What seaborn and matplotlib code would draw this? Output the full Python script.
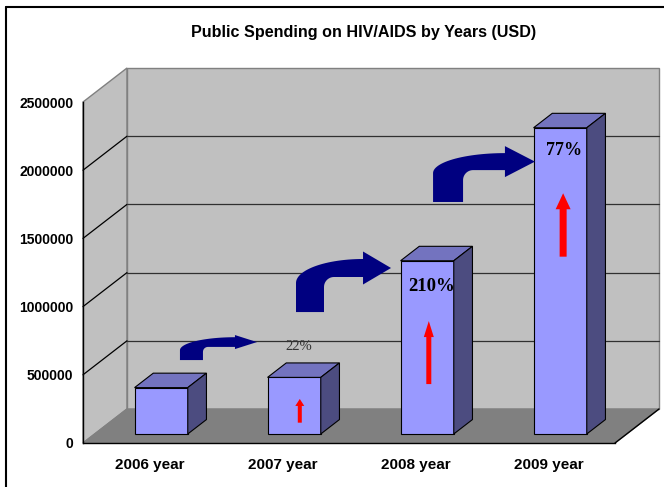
import numpy as np
import pandas as pd
import matplotlib
matplotlib.use("Agg")
import matplotlib.pyplot as plt
import seaborn as sns
from matplotlib.patches import Polygon
from matplotlib.lines import Line2D

# ---- data -------------------------------------------------------------
years = ["2006 year", "2007 year", "2008 year", "2009 year"]
spending = [340000, 415000, 1270000, 2245000]
growth_labels = ["", "22%", "210%", "77%"]
y_ticks = [0, 500000, 1000000, 1500000, 2000000, 2500000]

df = pd.DataFrame({"year": years, "spending": spending})

# ---- style ------------------------------------------------------------
sns.set_theme(style="white")
plt.rcParams["font.family"] = ["Liberation Sans", "DejaVu Sans"]
plt.rcParams["text.color"] = "black"
plt.rcParams["xtick.color"] = "black"
plt.rcParams["ytick.color"] = "black"
plt.rcParams["xtick.labelcolor"] = "black"
plt.rcParams["ytick.labelcolor"] = "black"

W, H = 664, 487
fig = plt.figure(figsize=(W / 100, H / 100), dpi=100)
fig.patch.set_facecolor("white")
ax = fig.add_axes([83 / W, 1 - 443 / H, 532 / W, 341 / H])

YMAX = 2500000
# oblique depth vector of the 3-D box (category units, value units)
DEPTH_X = 44 / 133
DEPTH_Y = 34 / 341 * YMAX
T_FRONT, T_BACK = 0.265, 0.69   # depth of the bars' front and back faces


def P(x, y, t):
    return (x + t * DEPTH_X, y + t * DEPTH_Y)


# ---- bars (front faces) ----------------------------------------------
sns.barplot(data=df, x="year", y="spending", ax=ax, color="#9999FF",
            saturation=1, width=0.4, edgecolor="black", linewidth=0.8,
            errorbar=None, zorder=3)
bars = list(ax.patches)

ax.set_xlim(-0.5, 3.5)
ax.set_ylim(0, YMAX)
ax.patch.set_alpha(0)

# ---- walls, floor and gridlines ---------------------------------------
x0, x1 = -0.5, 3.5
wall_kw = dict(closed=True, clip_on=False, linewidth=1.0)
ax.add_patch(Polygon([P(x0, 0, 0), P(x0, 0, 1), P(x0, YMAX, 1), P(x0, YMAX, 0)],
                     facecolor="#C0C0C0", edgecolor="#808080", zorder=0.5, **wall_kw))
ax.add_patch(Polygon([P(x0, 0, 1), P(x1, 0, 1), P(x1, YMAX, 1), P(x0, YMAX, 1)],
                     facecolor="#C0C0C0", edgecolor="#808080", zorder=0.5, **wall_kw))
ax.add_patch(Polygon([P(x0, 0, 0), P(x1, 0, 0), P(x1, 0, 1), P(x0, 0, 1)],
                     facecolor="#808080", edgecolor="#808080", zorder=0.6, **wall_kw))
# right edge of the floor
ax.add_line(Line2D(*zip(P(x1, 0, 0), P(x1, 0, 1)), color="black", lw=1.0,
                   clip_on=False, zorder=0.7))
for v in y_ticks[1:-1]:
    xs, ys = zip(P(x0, v, 0), P(x0, v, 1))
    ax.add_line(Line2D(xs, ys, color="black", lw=0.9, clip_on=False, zorder=0.8))
    xs, ys = zip(P(x0, v, 1), P(x1, v, 1))
    ax.add_line(Line2D(xs, ys, color="#303030", lw=0.9, clip_on=False, zorder=0.8))

# ---- bars: move to their depth and add top / side faces ---------------
d = T_BACK - T_FRONT
for bar in bars:
    bx = bar.get_x() + T_FRONT * DEPTH_X
    bw = bar.get_width()
    bh = bar.get_height()
    by = T_FRONT * DEPTH_Y
    bar.set_x(bx)
    bar.set_y(by)
    top = by + bh
    ax.add_patch(Polygon([(bx, top), (bx + bw, top),
                          (bx + bw + d * DEPTH_X, top + d * DEPTH_Y),
                          (bx + d * DEPTH_X, top + d * DEPTH_Y)],
                         closed=True, facecolor="#7373BF", edgecolor="black",
                         linewidth=0.8, zorder=3, clip_on=False))
    ax.add_patch(Polygon([(bx + bw, by), (bx + bw + d * DEPTH_X, by + d * DEPTH_Y),
                          (bx + bw + d * DEPTH_X, top + d * DEPTH_Y), (bx + bw, top)],
                         closed=True, facecolor="#4C4C80", edgecolor="black",
                         linewidth=0.8, zorder=3, clip_on=False))

# ---- axes, ticks and labels -------------------------------------------
for side in ("top", "right"):
    ax.spines[side].set_visible(False)
for side in ("left", "bottom"):
    ax.spines[side].set_color("black")
    ax.spines[side].set_linewidth(1.0)
    ax.spines[side].set_zorder(5)

ax.set_yticks(y_ticks)
ax.set_yticklabels([str(v) for v in y_ticks])
ax.tick_params(axis="y", which="major", direction="out", length=5, width=1,
               color="black", labelcolor="black", pad=2, labelsize=10)
for lab in ax.get_yticklabels():
    lab.set_fontweight("bold")

ax.set_xticks(np.arange(-0.5, 4.0, 1.0))
ax.set_xticklabels([])
ax.set_xticks(np.arange(len(years)), minor=True)
ax.set_xticklabels(years, minor=True, fontweight="bold", fontsize=11)
ax.tick_params(axis="x", which="major", direction="out", length=5, width=1,
               color="black")
ax.tick_params(axis="x", which="minor", length=0, pad=11, labelcolor="black")
ax.set_xlabel("")
ax.set_ylabel("")

fig.text(364 / W, 1 - 32 / H, "Public Spending on HIV/AIDS by Years (USD)",
         ha="center", va="center", fontsize=11.6, fontweight="bold", color="black")

# ---- annotations: growth percentages ----------------------------------
label_dy = [0, 225000, -190000, -170000]
label_style = [None, dict(fontsize=10.5, fontweight="normal", color="#333333"),
               dict(fontsize=13.5, fontweight="bold", color="black"),
               dict(fontsize=13, fontweight="bold", color="black")]
for i, (val, lab) in enumerate(zip(spending, growth_labels)):
    if not lab:
        continue
    top = T_FRONT * DEPTH_Y + val
    ax.text(i + 0.12, top + label_dy[i], lab, ha="center", va="center",
            family=["Liberation Serif", "DejaVu Serif"], zorder=6,
            **label_style[i])

to_disp = ax.transData.transform
to_data = ax.transData.inverted().transform

# red up-arrows inside the bars: (x, y_bottom, y_tip, shaft_w, head_w, head_len) px
red_arrows = [(1.13, 149000, 323000, 4, 9, 7),
              (2.10, 432000, 894000, 5, 10, 16),
              (3.11, 1366000, 1831000, 7, 15, 16)]
for xc, yb, yt, sw, hw, hl in red_arrows:
    (cx, by), = to_disp([(xc, yb)])
    (_, ty), = to_disp([(xc, yt)])
    pts = [(cx - sw / 2, by), (cx + sw / 2, by), (cx + sw / 2, ty - hl),
           (cx + hw / 2, ty - hl), (cx, ty), (cx - hw / 2, ty - hl),
           (cx - sw / 2, ty - hl)]
    ax.add_patch(Polygon(to_data(pts), closed=True, facecolor="#FF0000",
                         edgecolor="none", zorder=4, clip_on=False))


# navy bent arrows between the bars
def bent_arrow(stem_left, stem_bottom, tip_x, tip_y, ws, t, h, L, ryo, ri):
    (XL, YB), = to_disp([(stem_left, stem_bottom)])
    (XT, YM), = to_disp([(tip_x, tip_y)])
    yo, yi = YM + t / 2, YM - t / 2
    xhb = XT - L
    xr = XL + ws
    pts = [(XL, YB)]
    th = np.linspace(np.pi, np.pi / 2, 30)
    pts += list(zip(xhb + (xhb - XL) * np.cos(th), (yo - ryo) + ryo * np.sin(th)))
    pts += [(xhb, YM + h), (XT, YM), (xhb, YM - h), (xhb, yi)]
    th = np.linspace(np.pi / 2, np.pi, 15)
    pts += list(zip(xr + ri + ri * np.cos(th), yi - ri + ri * np.sin(th)))
    pts += [(xr, YB)]
    ax.add_patch(Polygon(to_data(pts), closed=True, facecolor="#000080",
                         edgecolor="none", zorder=4, clip_on=False))


bent_arrow(0.229, 608000, 0.808, 740000, 23, 9.7, 7, 22, 13, 5)
bent_arrow(1.1015, 960000, 1.816, 1283000, 28, 18, 16.5, 28, 24, 10)
bent_arrow(2.132, 1767000, 2.898, 2063000, 30, 17, 15.5, 30, 20, 10)

# ---- outer frame (left and top edges) ----------------------------------
fx, fy = 5.5 / W, 1 - 6.5 / H
fig.add_artist(Line2D([fx, fx], [0, fy], transform=fig.transFigure,
                      color="black", lw=1.5))
fig.add_artist(Line2D([fx, 1.0], [fy, fy], transform=fig.transFigure,
                      color="black", lw=1.5))

fig.savefig("out.png", dpi=100)
